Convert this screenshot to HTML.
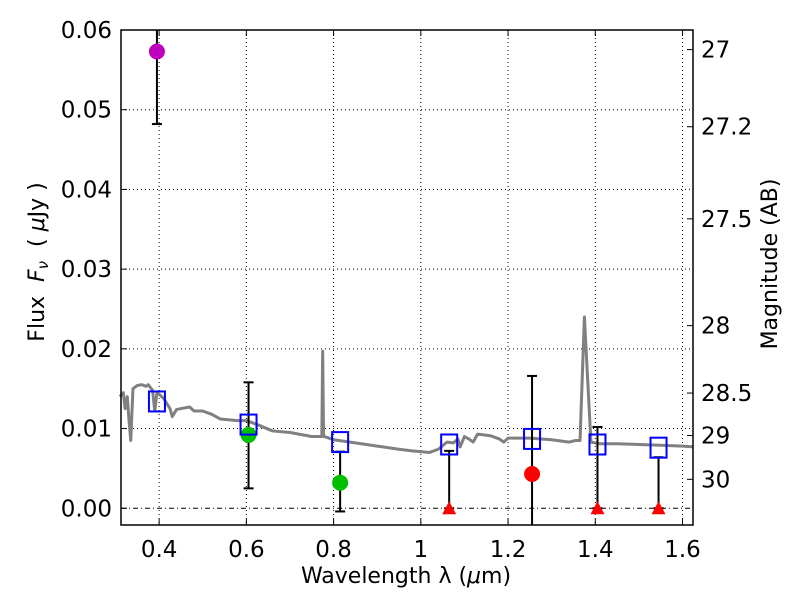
<!DOCTYPE html>
<html><head><meta charset="utf-8"><style>
body{margin:0;background:#fff;}
svg{display:block;font-family:"DejaVu Sans","Liberation Sans",sans-serif;}
</style></head><body>
<svg id="chart" width="800" height="600" viewBox="0 0 800 600" xmlns="http://www.w3.org/2000/svg">
<rect width="800" height="600" fill="#fff"/>
<g id="grid"></g>
<g id="spec"></g>
<g id="marks"></g>
<g id="axes"></g>
<text x="406" y="583" font-size="22" text-anchor="middle">Wavelength  λ (<tspan font-style="italic">μ</tspan>m)</text>
<text transform="translate(44,262) rotate(-90)" font-size="22" text-anchor="middle" xml:space="preserve">Flux  <tspan font-style="italic">F</tspan><tspan font-style="italic" font-size="15" dy="4">ν</tspan><tspan dy="-4">  ( </tspan><tspan font-style="italic">μ</tspan>Jy )</text>
<text transform="translate(777,264) rotate(-90)" font-size="22" text-anchor="middle">Magnitude (AB)</text>
</svg>
<script>
const xTicks=[0.4,0.6,0.8,1.0,1.2,1.4,1.6];
const xTickLabels=["0.4","0.6","0.8","1","1.2","1.4","1.6"];
const yTicks=[0,0.01,0.02,0.03,0.04,0.05,0.06];
const yTickLabels=["0.00","0.01","0.02","0.03","0.04","0.05","0.06"];
const magTicks=[27,27.2,27.5,28,28.5,29,30];
const magTickLabels=["27","27.2","27.5","28","28.5","29","30"];
const specWave=[0.31,0.318,0.322,0.327,0.331,0.335,0.34,0.345,0.35,0.36,0.37,0.375,0.385,0.39,0.395,0.4,0.41,0.425,0.43,0.44,0.47,0.48,0.5,0.52,0.54,0.58,0.6,0.625,0.66,0.7,0.75,0.77,0.773,0.775,0.777,0.779,0.8,0.85,0.9,0.95,0.98,1.0,1.02,1.04,1.06,1.075,1.085,1.09,1.1,1.11,1.12,1.13,1.16,1.18,1.19,1.2,1.25,1.3,1.34,1.355,1.365,1.375,1.39,1.41,1.45,1.5,1.55,1.6,1.625];
const specFlux=[0.0140,0.0145,0.0125,0.0140,0.0110,0.0085,0.0150,0.0152,0.0154,0.0155,0.0153,0.0155,0.0148,0.0122,0.0145,0.0143,0.0138,0.0125,0.0115,0.0124,0.0127,0.0122,0.0122,0.0118,0.0112,0.0110,0.0110,0.0105,0.0097,0.0095,0.0090,0.0090,0.0090,0.0197,0.0090,0.0090,0.0086,0.0082,0.0078,0.0074,0.0072,0.0071,0.0070,0.0074,0.0083,0.0082,0.0087,0.0077,0.0090,0.0087,0.0083,0.0093,0.0091,0.0087,0.0083,0.0088,0.0088,0.0086,0.0083,0.0085,0.0085,0.0240,0.0083,0.0081,0.0081,0.0080,0.0079,0.0078,0.0077];
const modelWave=[0.395,0.605,0.815,1.065,1.255,1.405,1.545];
const modelFlux=[0.0134,0.0105,0.0083,0.0080,0.0087,0.0080,0.0076];
const obsWave=[0.395,0.605,0.815,1.255];
const obsFlux=[0.0573,0.0092,0.0032,0.0043];
const obsLo=[0.0482,0.0025,-0.0004,-0.01];
const obsHi=[0.07,0.0158,0.0071,0.0166];
const obsColor=["#bf00bf","#00bf00","#00bf00","#ff0000"];
const ulWave=[1.065,1.405,1.545];
const ulHi=[0.0072,0.0102,0.0064];

const L=121,R=693,T=30,B=525;
const xmin=0.3126,xmax=1.624,ymin=-0.0021,ymax=0.06;
const X=v=>L+(v-xmin)/(xmax-xmin)*(R-L);
const Y=v=>T+(ymax-v)/(ymax-ymin)*(B-T);
const NS="http://www.w3.org/2000/svg";
function mk(tag,attrs,parent){const e=document.createElementNS(NS,tag);for(const k in attrs)e.setAttribute(k,attrs[k]);parent.appendChild(e);return e;}
const grid=document.getElementById('grid'),spec=document.getElementById('spec'),marks=document.getElementById('marks'),axes=document.getElementById('axes');

xTicks.forEach((v,i)=>{
 const g=mk('line',{x1:X(v),x2:X(v),y1:T,y2:B,stroke:'#000','stroke-width':1,'stroke-dasharray':'1,3'},grid);
 
 
 const t=mk('line',{x1:X(v),x2:X(v),y1:B,y2:B-6,stroke:'#000'},axes);
 
 
 const t2=mk('line',{x1:X(v),x2:X(v),y1:T,y2:T+6,stroke:'#000'},axes);
 
 
 const l=mk('text',{x:X(v),y:B+32,'font-size':23,'text-anchor':'middle'},axes);
 l.textContent=xTickLabels[i];
 
 
});
yTicks.forEach((v,i)=>{
 const g=mk('line',{x1:L,x2:R,y1:Y(v),y2:Y(v),stroke:'#000','stroke-width':1,'stroke-dasharray':v===0?'5,3,1,3':'1,3'},grid);
 
 
 const t=mk('line',{x1:L,x2:L+6,y1:Y(v),y2:Y(v),stroke:'#000'},axes);
 
 
 const l=mk('text',{x:L-9,y:Y(v)+8,'font-size':23,'text-anchor':'end'},axes);
 l.textContent=yTickLabels[i];
 
 
});
magTicks.forEach((m,i)=>{
 const f=Math.pow(10,(23.9-m)/2.5);
 const t=mk('line',{x1:R,x2:R-6,y1:Y(f),y2:Y(f),stroke:'#000'},axes);
 
 
 const l=mk('text',{x:R+8,y:Y(f)+8,'font-size':23},axes);
 l.textContent=magTickLabels[i];
 
 
});

const sp=mk('polyline',{points:specWave.map((w,i)=>X(w)+','+Y(specFlux[i])).join(' '),fill:'none',stroke:'#808080','stroke-width':3,'stroke-linejoin':'round'},spec);



function errbar(x,lo,hi){
 const yl=Math.min(Y(lo),B),yh=Math.max(Y(hi),T);
 const e=mk('line',{x1:x,x2:x,y1:yl,y2:yh,stroke:'#000','stroke-width':2},marks);
 
 
 if(Y(hi)>T){const c=mk('line',{x1:x-5,x2:x+5,y1:Y(hi),y2:Y(hi),stroke:'#000','stroke-width':2},marks);
  
  }
 if(Y(lo)<B){const c=mk('line',{x1:x-5,x2:x+5,y1:Y(lo),y2:Y(lo),stroke:'#000','stroke-width':2},marks);
  
  }
}
ulWave.forEach((w,i)=>{
 const x=X(w),y=Y(0);
 errbar(x,0,ulHi[i]);
 const p=mk('polygon',{points:`${x-7},${y+6} ${x+7},${y+6} ${x},${y-7}`,fill:'#ff0000'},marks);
 
 
});
obsWave.forEach((w,i)=>{
 errbar(X(w),obsLo[i],obsHi[i]);
 const c=mk('circle',{cx:X(w),cy:Y(obsFlux[i]),r:8,fill:obsColor[i]},marks);
 
 
});
modelWave.forEach((w,i)=>{
 const r=mk('rect',{x:X(w)-8,y:Y(modelFlux[i])-10,width:16,height:20,fill:'none',stroke:'#0000ff','stroke-width':2},marks);
 
 
});
const fr=mk('rect',{x:L,y:T,width:R-L,height:B-T,fill:'none',stroke:'#000','stroke-width':1.5},axes);


</script>
</body></html>
